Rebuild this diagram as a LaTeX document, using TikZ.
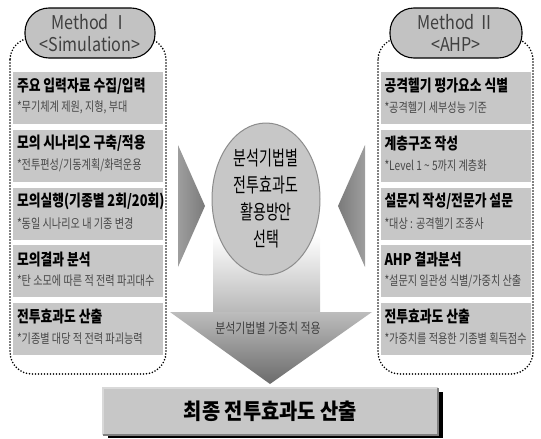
\documentclass[tikz,border=0pt]{standalone}
\usepackage{fontspec}
\setmainfont{Noto Sans CJK KR}
\newfontfamily\krtitle[FakeStretch=0.8]{Noto Sans CJK KR}
\newfontfamily\krsub[FakeStretch=0.78]{Noto Sans CJK KR}
\newfontfamily\kroval[FakeStretch=0.7]{Noto Sans CJK KR}
\newfontfamily\krhead[FakeStretch=0.85]{Noto Sans CJK KR}
\newfontfamily\krfinal[FakeStretch=0.9]{Noto Sans CJK KR}
\usetikzlibrary{shapes.geometric,positioning}

\definecolor{boxgray}{gray}{0.78}
\definecolor{pillgray}{gray}{0.76}
\definecolor{ovalgray}{gray}{0.78}

\begin{document}
\begin{tikzpicture}[x=1pt, y=-1pt,
    dotbox/.style={line width=1.8pt, dash pattern=on 0pt off 3pt, line cap=round, rounded corners=22pt},
    pill/.style={draw, line width=1.1pt, fill=pillgray, rounded corners=24pt, minimum height=50pt,
        text=black!75, font=\krhead\fontsize{19}{22}\selectfont, align=center, inner sep=0pt},
    itembox/.style={fill=boxgray, minimum width=150pt, minimum height=52pt, inner sep=0pt},
    itemtitle/.style={anchor=west, inner sep=0pt, font=\krtitle\bfseries\fontsize{16}{18}\selectfont},
    itemsub/.style={anchor=west, inner sep=0pt, text=black!72, font=\krsub\fontsize{13}{15}\selectfont}]
    \useasboundingbox (0,0) rectangle (541,439);

    % 1. Dotted frames of both methods
    \draw[dotbox] (10,38) rectangle (166,374);
    \draw[dotbox] (378,38) rectangle (533,374);

    % 2. Method headers
    \node[pill, minimum width=130pt] (simhead) at (90,33) {Method Ⅰ\\<Simulation>};
    \node[pill, minimum width=132pt] (ahphead) at (456,33) {Method Ⅱ\\<AHP>};

    % 3. Steps of method I
    \foreach \i/\t/\s in {0/{주요 입력자료 수집/입력}/{*무기체계 제원, 지형, 부대},
                          1/{모의 시나리오 구축/적용}/{*전투편성/기동계획/화력운용},
                          2/{모의실행(기종별 2회/20회)}/{*동일 시나리오 내 기종 변경},
                          3/{모의결과 분석}/{*탄 소모에 따른 적 전력 파괴대수},
                          4/{전투효과도 산출}/{*기종별 대당 적 전력 파괴능력}} {
        \node[itembox] (L\i) at (88, 98+57.75*\i) {};
        \node[itemtitle] (Lt\i) at ([xshift=4pt, yshift=-14pt]L\i.north west) {\t};
        \node[itemsub] (Ls\i) at ([xshift=4pt, yshift=-36pt]L\i.north west) {\s};
    }

    % 4. Steps of method II
    \foreach \i/\t/\s in {0/{공격헬기 평가요소 식별}/{*공격헬기 세부성능 기준},
                          1/{계층구조 작성}/{*Level 1 \textasciitilde{} 5까지 계층화},
                          2/{설문지 작성/전문가 설문}/{*대상 : 공격헬기 조종사},
                          3/{AHP 결과분석}/{*설문지 일관성 식별/가중치 산출},
                          4/{전투효과도 산출}/{*가중치를 적용한 기종별 획득점수}} {
        \node[itembox] (R\i) at (455.5, 98+57.75*\i) {};
        \node[itemtitle] (Rt\i) at ([xshift=4pt, yshift=-14pt]R\i.north west) {\t};
        \node[itemsub] (Rs\i) at ([xshift=4pt, yshift=-36pt]R\i.north west) {\s};
    }

    % 5. Down arrow (shaft and head)
    \shade[top color=white, bottom color=black!28] (213,235) rectangle (320,313);
    \shade[top color=black!26, bottom color=black!58] (170,312) -- (372,312) -- (270,384) -- cycle;
    \node[text=black!75, font=\krsub\fontsize{14}{16}\selectfont] (weight) at (268,328) {분석기법별 가중치 적용};

    % 6. Central choice
    \node[ellipse, fill=ovalgray, draw=black!45, line width=1pt, minimum width=108pt, minimum height=152pt,
          align=center, font=\kroval\fontsize{20}{27}\selectfont] (choice) at (266,199)
          {분석기법별\\전투효과도\\활용방안\\선택};

    % 7. Side arrows into the choice
    \shade[left color=black!38, right color=black!52] (178,145) -- (178,267) -- (205,206) -- cycle;
    \shade[right color=black!38, left color=black!52] (365,145) -- (365,267) -- (338,206) -- cycle;

    % 8. Final box with shadow
    \fill[black] (108,392) rectangle (443,438);
    \node[fill=boxgray, minimum width=335pt, minimum height=47pt, inner sep=0pt,
          font=\krfinal\bfseries\fontsize{22}{25}\selectfont] (final) at (270.5,411.5) {최종 전투효과도 산출};
    \draw[white!85!black, line width=1.5pt] (final.south west) -- (final.north west) -- (final.north east);
    \draw[black!50, line width=1.5pt] (final.north east) -- (final.south east) -- (final.south west);

\end{tikzpicture}
\end{document}
